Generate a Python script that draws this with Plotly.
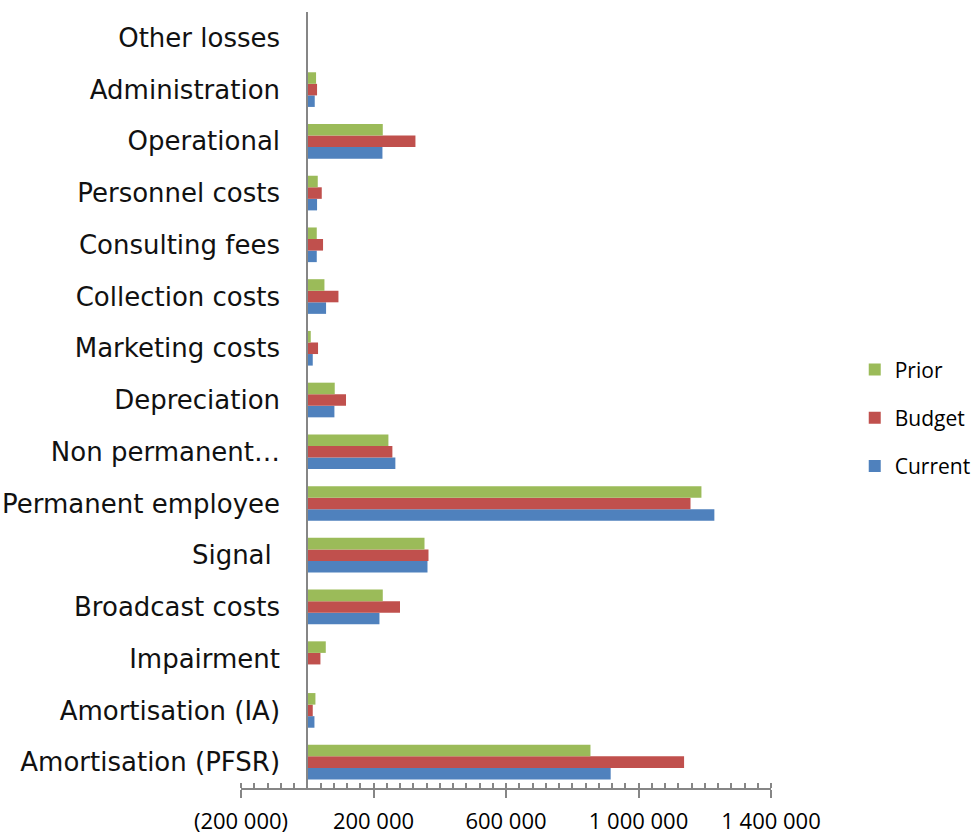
import plotly.graph_objects as go

categories = [
    "Amortisation (PFSR)", "Amortisation (IA)", "Impairment", "Broadcast costs",
    "Signal ", "Permanent employee", "Non permanent…", "Depreciation",
    "Marketing costs", "Collection costs", "Consulting fees", "Personnel costs",
    "Operational", "Administration", "Other losses",
]
current = [916000, 21700, 0, 218000, 363000, 1229000, 266000, 82000,
           16600, 56800, 28700, 29600, 227000, 22600, 0]
budget = [1137600, 16600, 39800, 280000, 366000, 1157000, 257000, 117000,
          32600, 94200, 47700, 43800, 326600, 29600, 0]
prior = [855000, 24700, 55900, 228000, 354000, 1190000, 245000, 83000,
         10600, 51900, 28700, 31700, 228000, 26600, 0]

tick_vals = [-200000, 200000, 600000, 1000000, 1400000]
tick_text = ["(200 000)", "200 000", "600 000", "1 000 000", "1 400 000"]

x_min, x_max = -200000, 1400000
minor_step = 40000
axis_grey = "#868686"

# (name, values, colour, position in legend from the top)
series = [
    ("Current", current, "#4F81BD", 3),
    ("Budget", budget, "#C0504D", 2),
    ("Prior", prior, "#9BBB59", 1),
]

fig = go.Figure()
for name, vals, color, rank in series:
    fig.add_trace(go.Bar(
        y=categories, x=vals, name=name, orientation="h",
        marker=dict(color=color, line=dict(width=0)),
        legendgroup=name, legendrank=rank,
    ))

# empty trace that carries the overlay axis used for the upper half of major ticks
fig.add_trace(go.Scatter(x=[], y=[], xaxis="x2", yaxis="y",
                         showlegend=False, hoverinfo="skip"))

fig.update_layout(
    width=978, height=835,
    margin=dict(l=241, r=207, t=12, b=47, autoexpand=False),
    paper_bgcolor="white", plot_bgcolor="white",
    barmode="group", bargap=0.33, bargroupgap=0,
    xaxis=dict(
        range=[x_min, x_max], domain=[0, 1], anchor="y",
        showgrid=False, zeroline=False,
        showline=True, linecolor=axis_grey, linewidth=2,
        ticks="outside", ticklen=8, tickwidth=2, tickcolor=axis_grey,
        tickvals=tick_vals, ticktext=tick_text,
        tickfont=dict(family="Open Sans", size=22, color="black"),
        ticklabelstandoff=5,
        minor=dict(ticks="inside", ticklen=5, tickwidth=2, tickcolor=axis_grey,
                   tick0=x_min, dtick=minor_step, showgrid=False),
    ),
    xaxis2=dict(
        range=[x_min, x_max], overlaying="x", anchor="y", side="bottom",
        showgrid=False, zeroline=False, showline=False,
        ticks="inside", ticklen=5, tickwidth=2, tickcolor=axis_grey,
        tickvals=tick_vals, showticklabels=False,
    ),
    yaxis=dict(
        anchor="free", position=(0 - x_min) / (x_max - x_min),
        domain=[0, 1], automargin=False,
        showgrid=False, zeroline=False,
        showline=True, linecolor=axis_grey, linewidth=2,
        ticks="", ticklabelstandoff=21,
        tickfont=dict(family="DejaVu Sans", size=26, color="#111111"),
        categoryorder="array", categoryarray=categories,
    ),
    legend=dict(
        x=1.158, y=0.477, xanchor="left", yanchor="middle",
        traceorder="grouped", tracegroupgap=18,
        font=dict(family="Open Sans", size=21, color="black"),
        bgcolor="rgba(0,0,0,0)",
    ),
    showlegend=True,
)

fig.write_html("out.html")
